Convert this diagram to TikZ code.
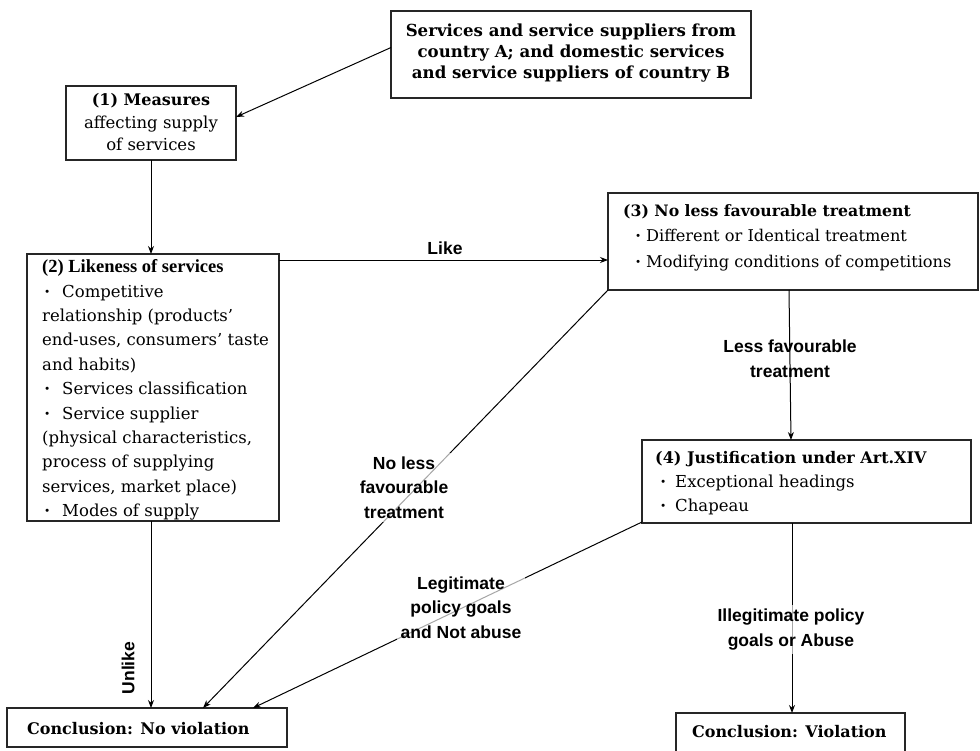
\documentclass[tikz,border=0pt]{standalone}
\usepackage{fontspec}
\usetikzlibrary{arrows.meta,calc}
\newfontfamily\boxserif{DejaVu Serif}
\newfontfamily\headserif{Liberation Serif}
\newfontfamily\labelsans{Liberation Sans}
% bullet dot centred #1 from the line start, text starting #2 after it
\newcommand\dotat[2]{\hspace*{#1}\makebox[0pt]{\bfseries ·}\hspace*{#2}}
\begin{document}
\begin{tikzpicture}[x=1pt,y=-1pt,
  frame/.style={rectangle, draw=black!85, line width=1.1pt, fill=white, inner sep=0pt, outer sep=0pt},
  flow/.style={draw=black, line width=1pt, -{Stealth[length=8pt,width=6pt]}},
  boxbody/.style={inner sep=0pt, align=left, font=\boxserif\fontsize{16.5}{24.4}\selectfont},
  boxhead/.style={inner sep=0pt, font=\boxserif\bfseries\fontsize{16}{21}\selectfont},
  lbl/.style={inner sep=0pt, align=center, font=\labelsans\bfseries\fontsize{17.5}{24.5}\selectfont},
  veil/.style={lbl, inner sep=4pt, fill=white, fill opacity=0.65, text opacity=1},
]
\useasboundingbox (0,0) rectangle (980,750);
\fill[white] (0,0) rectangle (980,750);
\clip (0,0) rectangle (980,750);

% boxes
\node[frame, minimum width=360pt, minimum height=87pt] (src) at (571,54.5) {};
\node[frame, minimum width=170pt, minimum height=74pt] (m1) at (151,123) {};
\node[frame, minimum width=252pt, minimum height=267pt] (b2) at (153,387.5) {};
\node[frame, minimum width=370pt, minimum height=97pt] (b3) at (793,241.5) {};
\node[frame, minimum width=329pt, minimum height=83pt] (b4) at (806.5,481.5) {};
\node[frame, minimum width=280pt, minimum height=39pt] (nv) at (147,727.5) {};
\node[frame, minimum width=229pt, minimum height=40pt] (v) at (790.5,733) {};

% box texts
\node[boxhead, align=center, font=\boxserif\bfseries\fontsize{16.6}{21}\selectfont] (srctext) at (571,53)
  {Services and service suppliers from\\country A; and domestic services\\and service suppliers of country B};
\node[boxbody, align=center, font=\boxserif\fontsize{16.5}{22.5}\selectfont] (m1text) at (151,122.5)
  {{\bfseries\fontsize{16}{22.5}\selectfont (1) Measures}\\affecting supply\\of services};
\node[boxbody, anchor=west] (b2text) at (42,390)
  {{\headserif\bfseries\fontsize{18.5}{24.4}\selectfont (2) Likeness of services}\\
   \dotat{5pt}{15pt}Competitive\\
   relationship (products’\\
   end-uses, consumers’ taste\\
   and habits)\\
   \dotat{5pt}{15pt}Services classification\\
   \dotat{5pt}{15pt}Service supplier\\
   (physical characteristics,\\
   process of supplying\\
   services, market place)\\
   \dotat{5pt}{15pt}Modes of supply};
\node[boxbody, anchor=west, font=\boxserif\fontsize{16.2}{25.5}\selectfont] (b3text) at (623,237.5)
  {{\bfseries\fontsize{15.7}{25.5}\selectfont (3) No less favourable treatment}\\
   \dotat{15pt}{8pt}Different or Identical treatment\\
   \dotat{15pt}{8pt}Modifying conditions of competitions};
\node[boxbody, anchor=west, font=\boxserif\fontsize{16.5}{24}\selectfont] (b4text) at (655,483)
  {{\bfseries\fontsize{16}{24}\selectfont (4) Justification under Art.XIV}\\
   \dotat{8pt}{12pt}Exceptional headings\\
   \dotat{8pt}{12pt}Chapeau};
\node[boxhead, anchor=west] (nvtext) at (27,729) {Conclusion: No violation};
\node[boxhead, anchor=west] (vtext) at (692,732) {Conclusion: Violation};

% connectors
\coordinate (likeA) at ($(b2.north east)+(0,6)$);
\coordinate (lessA) at ($(b3.south west)+(181,0)$);
\coordinate (illA) at ($(b4.south west)+(150,0)$);
\draw[flow] ([yshift=7pt]src.west) -- ([yshift=6pt]m1.east);
\draw[flow] (m1.south) -- (m1.south |- b2.north);
\draw[flow] (likeA) -- (likeA -| b3.west);
\draw[flow] (lessA) -- ($(b4.north west)+(149,0)$);
\draw[flow] (b3.south west) -- ($(nv.north west)+(196,0)$);
\draw[flow] ([yshift=1pt]b4.south west) -- ($(nv.north west)+(246,0)$);
\draw[flow] (b2.south -| m1.south) -- (nv.north -| m1.south);
\draw[flow] (illA) -- (illA |- v.north);

% connector labels
\node[lbl] (likelbl) at (445,248) {Like};
\node[lbl] (lesslbl) at (790,358.5) {Less favourable\\treatment};
\node[veil] (nolesslbl) at (404,487.5) {No less\\favourable\\treatment};
\node[veil] (legitlbl) at (461,607.5) {Legitimate\\policy goals\\and Not abuse};
\node[veil] (illegitlbl) at (791,629.5) {Illegitimate policy\\goals or Abuse};
\node[lbl, rotate=90] (unlikelbl) at (128,668) {Unlike};
\end{tikzpicture}
\end{document}
